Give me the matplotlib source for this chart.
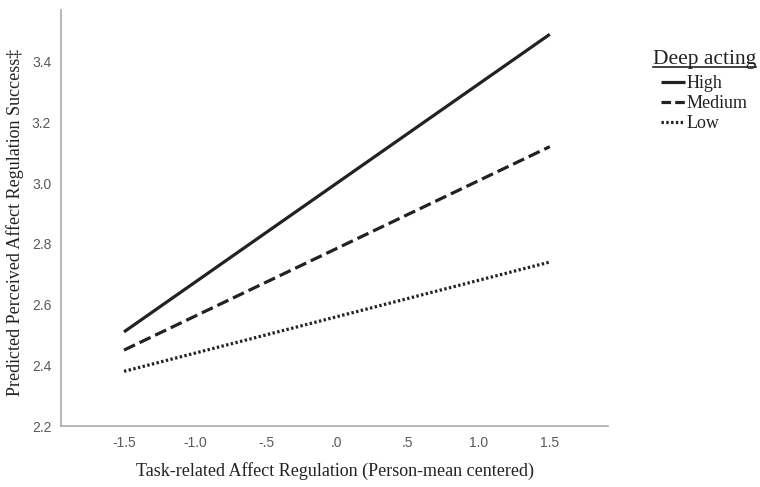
import matplotlib
matplotlib.use("Agg")
import matplotlib.pyplot as plt
from matplotlib.lines import Line2D

x_vals = [-1.5, 1.5]
high = [2.51, 3.49]
medium = [2.45, 3.12]
low = [2.38, 2.74]
series_names = ["High", "Medium", "Low"]
legend_title = "Deep acting"
xticks = [-1.5, -1.0, -0.5, 0.0, 0.5, 1.0, 1.5]
xtick_labels = ["-1.5", "-1.0", "-.5", ".0", ".5", "1.0", "1.5"]
yticks = [2.2, 2.4, 2.6, 2.8, 3.0, 3.2, 3.4]
ytick_labels = ["2.2", "2.4", "2.6", "2.8", "3.0", "3.2", "3.4"]
xlabel = "Task-related Affect Regulation (Person-mean centered)"
ylabel = "Predicted Perceived Affect Regulation Success\u2021"

W, H = 760, 487
tick_font = ["Liberation Sans", "DejaVu Sans"]
serif = ["Liberation Serif", "DejaVu Serif"]
ink = "#222222"
LW = 2.3

fig = plt.figure(figsize=(W/100, H/100), dpi=100)
ax_l, ax_r, ax_t, ax_b = 61, 608, 10, 426
ax = fig.add_axes([ax_l/W, 1 - ax_b/H, (ax_r-ax_l)/W, (ax_b-ax_t)/H])

styles = [dict(linestyle="-"), dict(dashes=(3.8, 1.6)), dict(dashes=(0.75, 0.75))]
for vals, name, st in zip([high, medium, low], series_names, styles):
    ax.plot(x_vals, vals, color=ink, lw=LW, solid_capstyle="butt", label=name, **st)

ax.set_xlim(-1.944, 1.91)
ax.set_ylim(2.2, 3.57)
ax.set_xticks(xticks)
ax.set_xticklabels(xtick_labels)
ax.set_yticks(yticks)
ax.set_yticklabels(ytick_labels)
for lab in ax.get_xticklabels() + ax.get_yticklabels():
    lab.set_fontfamily(tick_font)
    lab.set_fontsize(10)
    lab.set_color("#5a5a5a")
ax.tick_params(axis="both", length=0)
ax.tick_params(axis="x", pad=7)
ax.tick_params(axis="y", pad=7)

for s in ["top", "right"]:
    ax.spines[s].set_visible(False)
for s in ["left", "bottom"]:
    ax.spines[s].set_color("#aaaaaa")
    ax.spines[s].set_linewidth(1.2)

xl = ax.set_xlabel(xlabel, family=serif, fontsize=13, color=ink)
xl.set_va("center")
ax.xaxis.set_label_coords(0.5, (ax_b - 471) / (ax_b - ax_t))
yl = ax.set_ylabel(ylabel, family=serif, fontsize=13, color=ink)
yl.set_va("center")
ax.yaxis.set_label_coords((15 - ax_l) / (ax_r - ax_l), (ax_b - 222) / (ax_b - ax_t))

# legend (title underlined, entries with short handles)
t = fig.text(653/W, 1 - 64/H, legend_title, family=serif, fontsize=15.5,
             color=ink, va="baseline", ha="left")
fig.canvas.draw()
bb = t.get_window_extent()
uy = H - 67
fig.add_artist(Line2D([bb.x0/W, bb.x1/W], [uy/H, uy/H], color=ink, lw=1.2))

leg_styles = [dict(linestyle="-"), dict(dashes=(3.0, 1.3)), dict(dashes=(0.75, 0.75))]
entry_y = [82, 102, 122]
for name, st, ey in zip(series_names, leg_styles, entry_y):
    fig.add_artist(Line2D([661/W, 685/W], [1 - ey/H, 1 - ey/H], color=ink, lw=LW,
                          solid_capstyle="butt", **st))
    fig.text(687/W, 1 - ey/H, name, family=serif, fontsize=13, color=ink,
             va="center_baseline", ha="left")

fig.savefig("out.png", dpi=100)
